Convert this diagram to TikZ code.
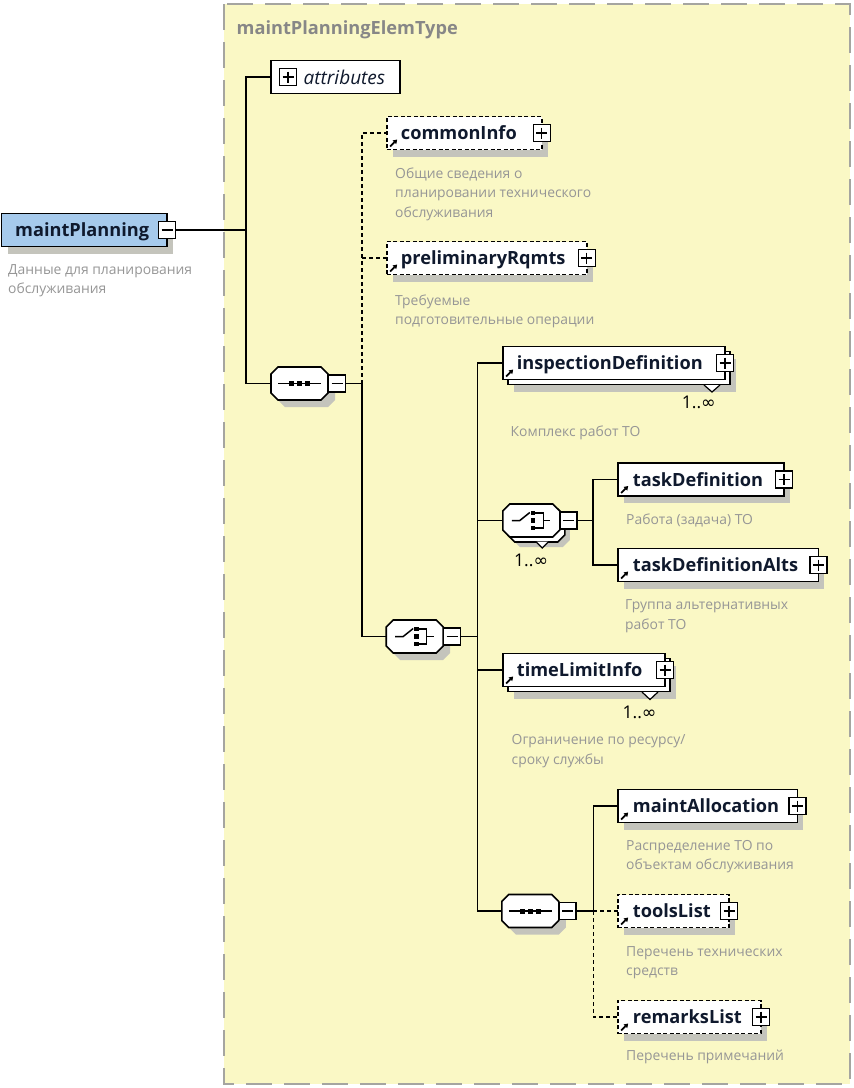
\documentclass[tikz,border=0pt]{standalone}
\usepackage{fontspec}
\setmainfont{Open Sans}
\newfontfamily\symf{DejaVu Sans}
\usetikzlibrary{calc,arrows.meta}
\definecolor{framefill}{RGB}{250,248,197}
\definecolor{framedraw}{RGB}{165,165,160}
\definecolor{shadowc}{RGB}{196,196,188}
\definecolor{mpblue}{RGB}{166,202,236}
\definecolor{descc}{RGB}{150,150,150}
\definecolor{titlec}{RGB}{135,135,135}
\definecolor{namec}{RGB}{15,25,45}
\tikzset{
 x=1pt,y=-1pt,
 box/.style={draw=black, line width=1.6pt, fill=white, anchor=north west, minimum height=33, inner sep=0, outer sep=0},
 shad/.style={preaction={fill=shadowc, draw=none, transform canvas={shift={(6pt,-7pt)}}}},
 optbox/.style={dash pattern=on 4pt off 2.5pt},
 multi/.style={preaction={fill=shadowc, draw=none, transform canvas={shift={(11pt,-12pt)}}},
   preaction={fill=white, draw=black, line width=1.6pt, transform canvas={shift={(5pt,-5pt)}}}},
 ename/.style={anchor=base west, inner sep=0, font=\fontsize{18.2}{20}\selectfont\bfseries, text=namec},
 desc/.style={anchor=base west, inner sep=0, align=left, font=\fontsize{13.9}{19.5}\selectfont, text=descc},
 mult/.style={anchor=base east, inner sep=0, font=\fontsize{17.5}{20}\selectfont, text=black},
 pm/.style={draw=black, line width=1.4pt, fill=white, minimum size=17, inner sep=0, outer sep=0},
 plusb/.style={pm, path picture={\draw[line width=1.3pt] ($(path picture bounding box.center)+(-5.5,0)$) -- +(11,0) ($(path picture bounding box.center)+(0,-5.5)$) -- +(0,11);}},
 minusb/.style={pm, path picture={\draw[line width=1.3pt] ($(path picture bounding box.center)+(-5.5,0)$) -- +(11,0);}},
 conn/.style={draw=black, line width=1.6pt},
 dconn/.style={conn, dash pattern=on 4pt off 3pt},
 refarr/.style={line width=1.8pt, -{Triangle[length=4pt,width=5pt]}},
 comp/.style={minimum width=57, minimum height=33, inner sep=0, outer sep=0},
 oct/.style={draw=black, line width=1.6pt, fill=white},
 notch/.style={draw=black, line width=1.2pt, fill=white},
}
\newcommand\xsOct[4]{\path[#4] ($(#1.north west)+(7+#2,#3)$) -- ($(#1.north east)+(-7+#2,#3)$) -- ($(#1.north east)+(#2,7+#3)$) -- ($(#1.south east)+(#2,-7+#3)$) -- ($(#1.south east)+(-7+#2,#3)$) -- ($(#1.south west)+(7+#2,#3)$) -- ($(#1.south west)+(#2,-7+#3)$) -- ($(#1.north west)+(#2,7+#3)$) -- cycle;}
\newcommand\xsSeq[1]{\draw[line width=1.5pt] ($(#1.center)+(-21.5,0)$) -- ($(#1.center)+(21.5,0)$);
 \foreach \d in {-7.8,0,7.8} {\fill ($(#1.center)+(\d-2.5,-2.5)$) rectangle +(5,5);}}
\newcommand\xsCho[1]{\draw[line width=1.5pt] ($(#1.center)+(-19.5,0)$) -- ($(#1.center)+(-11.5,0)$) -- ($(#1.center)+(-1.5,-8)$);
 \foreach \d in {-7.5,0,7.5} {\fill ($(#1.center)+(-0.8,\d-2.3)$) rectangle +(4.6,4.6);}
 \draw[line width=1.5pt] ($(#1.center)+(4,-7.5)$) -- ($(#1.center)+(12,-7.5)$) -- ($(#1.center)+(12,7.5)$) -- ($(#1.center)+(4,7.5)$);
 \draw[line width=1.5pt] ($(#1.center)+(12,0)$) -- ($(#1.center)+(19,0)$);}
\newcommand\xsName[3]{\node[ename] (#1n) at ($(#1.west)+(#2,6.6)$) {#3};}
\newcommand\xsRef[1]{\draw[refarr] ($(#1.south west)+(3.5,-3)$) -- ++(7,-7);}
\newcommand\xsPlus[1]{\node[plusb] (#1p) at (#1.east) {};}
\begin{document}
\begin{tikzpicture}
\useasboundingbox (0,0) rectangle (854,1088);
\draw[draw=framedraw, fill=framefill, line width=2pt, dash pattern=on 26pt off 12pt] (223.5,4) rectangle (849.5,1083.5);
\node[anchor=base west, inner sep=0, font=\fontsize{18.2}{20}\selectfont\bfseries, text=titlec] (title) at (236.5,34.3) {maintPlanningElemType};

% root element
\node[box, shad, fill=mpblue, minimum width=165.2] (mp) at (1.5,213.5) {};
\xsName{mp}{13.5}{maintPlanning}
\node[minusb] (mpm) at (167,230) {};
\node[desc] (mpd) at (8,293.5) {Данные для планирования\\обслуживания};

% attributes
\node[box, minimum width=129.3] (attr) at (270.7,60.5) {};
\node[plusb] (attrp) at (288,77) {};
\node[anchor=base west, inner sep=0, font=\fontsize{19}{20}\selectfont\itshape, text=namec] (attrn) at (303.5,84) {attributes};

% compositors
\node[comp] (s1) at (299.5,383.5) {};
\node[comp] (c1) at (414.7,636.5) {};
\node[comp] (c2) at (531.3,520.5) {};
\node[comp] (s2) at (530.3,911) {};
\xsOct{s1}{7}{7}{fill=shadowc}
\xsOct{s1}{0}{0}{oct}
\xsSeq{s1}
\xsOct{c1}{7}{7}{fill=shadowc}
\xsOct{c1}{0}{0}{oct}
\xsCho{c1}
\xsOct{c2}{10}{10}{fill=shadowc}
\xsOct{c2}{5}{5}{oct}
\draw[notch] ($(c2.south east)+(-24,4.5)$) -- ($(c2.south east)+(-17.5,11)$) -- ($(c2.south east)+(-11,4.5)$);
\xsOct{c2}{0}{0}{oct}
\xsCho{c2}
\xsOct{s2}{7}{7}{fill=shadowc}
\xsOct{s2}{0}{0}{oct}
\xsSeq{s2}
\node[minusb] (s1m) at (337,383.5) {};
\node[minusb] (c1m) at (452,636.5) {};
\node[minusb] (c2m) at (568.3,520.5) {};
\node[minusb] (s2m) at (567.5,911) {};
\node[mult] (c2x) at (548.3,566.7) {1..{\symf ∞}};

% child elements
\node[box, shad, optbox, minimum width=155] (ci) at (386.7,116.5) {};
\node[box, shad, optbox, minimum width=200] (pr) at (386.7,241.5) {};
\node[box, multi, minimum width=222.3] (id) at (502.7,346.5) {};
\node[box, shad, minimum width=166.3] (td) at (617.7,463) {};
\node[box, shad, minimum width=200.6] (tda) at (617.7,548.5) {};
\node[box, multi, minimum width=162.3] (tli) at (502.7,653.5) {};
\node[box, shad, minimum width=179.6] (ma) at (617.7,789.5) {};
\node[box, shad, optbox, minimum width=111.3] (tl) at (617.7,894.5) {};
\node[box, shad, optbox, minimum width=143.3] (rl) at (617.7,1000.5) {};

\draw[notch] ($(id.south east)+(-21,5.5)$) -- ($(id.south east)+(-13,12.5)$) -- ($(id.south east)+(-5,5.5)$);
\draw[notch] ($(tli.south east)+(-23,5.5)$) -- ($(tli.south east)+(-15,13)$) -- ($(tli.south east)+(-7,5.5)$);

\xsName{ci}{14}{commonInfo}
\xsName{pr}{14}{preliminaryRqmts}
\xsName{id}{14}{inspectionDefinition}
\xsName{td}{15}{taskDefinition}
\xsName{tda}{15}{taskDefinitionAlts}
\xsName{tli}{14}{timeLimitInfo}
\xsName{ma}{15}{maintAllocation}
\xsName{tl}{15}{toolsList}
\xsName{rl}{15}{remarksList}
\foreach \e in {ci,pr,id,td,tda,tli,ma,tl,rl} {\xsRef{\e}}
\foreach \e in {ci,pr,id,td,tda,tli,ma,tl,rl} {\xsPlus{\e}}

\node[mult] (idx) at (716,408.3) {1..{\symf ∞}};
\node[mult] (tlix) at (656.7,718.3) {1..{\symf ∞}};

% descriptions (base = last line)
\node[desc] (cid) at (395,217) {Общие сведения о\\планировании технического\\обслуживания};
\node[desc] (prd) at (395,324.5) {Требуемые\\подготовительные операции};
\node[desc] (idd) at (510.5,436.5) {Комплекс работ ТО};
\node[desc] (tdd) at (626,524) {Работа (задача) ТО};
\node[desc] (tdad) at (625,629) {Группа альтернативных\\работ ТО};
\node[desc] (tlid) at (511.5,764) {Ограничение по ресурсу/\\сроку службы};
\node[desc] (mad) at (626,869.5) {Распределение ТО по\\объектам обслуживания};
\node[desc] (tld) at (626,975.5) {Перечень технических\\средств};
\node[desc] (rld) at (626,1060) {Перечень примечаний};

% connectors
\coordinate (j1) at (246,230);
\coordinate (j2) at (361.7,383.5);
\coordinate (j3) at (477.3,636.5);
\coordinate (j4) at (592.7,520.5);
\coordinate (j5) at (593.3,911);
\draw[conn] (mpm.east) -- (j1);
\draw[conn] (j1) |- (attr.west);
\draw[conn] (j1) |- (s1.west);
\draw[conn] (s1m.east) -- (j2);
\draw[dconn] (j2) |- (ci.west);
\draw[dconn] (j2) |- (pr.west);
\draw[conn] (j2) |- (c1.west);
\draw[conn] (c1m.east) -- (j3);
\draw[conn] (j3) |- (id.west);
\draw[conn] (j3) |- (c2.west);
\draw[conn] (j3) |- (tli.west);
\draw[conn] (j3) |- (s2.west);
\draw[conn] (c2m.east) -- (j4);
\draw[conn] (j4) |- (td.west);
\draw[conn] (j4) |- (tda.west);
\draw[conn] (s2m.east) -- (j5);
\draw[conn] (j5) |- (ma.west);
\draw[dconn] (j5) -- (tl.west);
\draw[dconn] (j5) |- (rl.west);
\end{tikzpicture}
\end{document}
